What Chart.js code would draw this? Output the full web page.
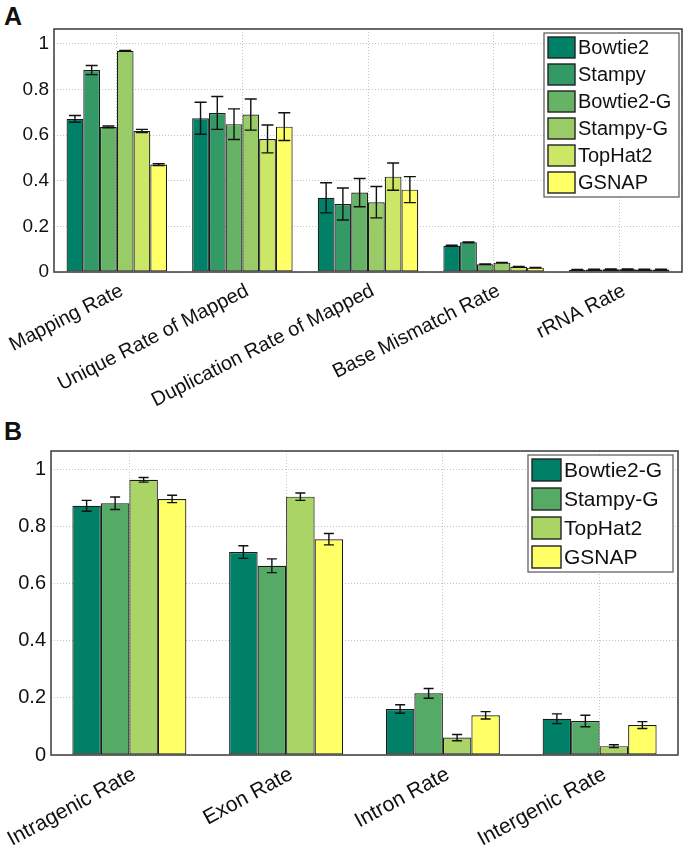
<!DOCTYPE html>
<html>
<head>
<meta charset="utf-8">
<script src="https://cdn.jsdelivr.net/npm/chart.js@4.4.0/dist/chart.umd.min.js"></script>
<style>
    body { margin: 0; background: #fff; width: 685px; height: 852px; position: relative; overflow: hidden; }
    .panel { position: absolute; left: 0; }
    .tag { position: absolute; left: 4px; font: bold 25px "Liberation Sans", Arial, sans-serif; color: #111; }
</style>
</head>
<body>
<div class="tag" style="top: 2px;">A</div>
<canvas id="chartA" class="panel" style="top: 0;" width="685" height="410"></canvas>
<div class="tag" style="top: 417px;">B</div>
<canvas id="chartB" class="panel" style="top: 410px;" width="685" height="442"></canvas>

<script>
// panel A data
const labelsA = ["Mapping Rate", "Unique Rate of Mapped", "Duplication Rate of Mapped", "Base Mismatch Rate", "rRNA Rate"];
const toolsA = ["Bowtie2", "Stampy", "Bowtie2-G", "Stampy-G", "TopHat2", "GSNAP"];
const bowtie2A = [0.671, 0.674, 0.325, 0.115, 0.010];
const stampyA = [0.885, 0.697, 0.298, 0.130, 0.011];
const bowtie2gA = [0.636, 0.648, 0.348, 0.034, 0.012];
const stampygA = [0.969, 0.690, 0.306, 0.041, 0.012];
const tophat2A = [0.618, 0.583, 0.418, 0.023, 0.011];
const gsnapA = [0.471, 0.637, 0.361, 0.019, 0.011];
// error bars A
const bowtie2ErrA = [0.015, 0.070, 0.066, 0.002, 0.001];
const stampyErrA = [0.020, 0.072, 0.070, 0.002, 0.001];
const bowtie2gErrA = [0.004, 0.067, 0.062, 0.001, 0.001];
const stampygErrA = [0.002, 0.068, 0.069, 0.001, 0.001];
const tophat2ErrA = [0.007, 0.061, 0.060, 0.001, 0.001];
const gsnapErrA = [0.004, 0.061, 0.057, 0.001, 0.001];

// panel B data
const labelsB = ["Intragenic Rate", "Exon Rate", "Intron Rate", "Intergenic Rate"];
const toolsB = ["Bowtie2-G", "Stampy-G", "TopHat2", "GSNAP"];
const bowtie2gB = [0.873, 0.711, 0.161, 0.127];
const stampygB = [0.882, 0.663, 0.216, 0.119];
const tophat2B = [0.964, 0.905, 0.061, 0.031];
const gsnapB = [0.897, 0.756, 0.139, 0.105];
const bowtie2gErrB = [0.019, 0.022, 0.015, 0.017];
const stampygErrB = [0.022, 0.024, 0.017, 0.020];
const tophat2ErrB = [0.008, 0.013, 0.011, 0.005];
const gsnapErrB = [0.013, 0.020, 0.013, 0.012];

const yTicks = [0, 0.2, 0.4, 0.6, 0.8, 1];

// matlab "summer" colours
const coloursA = ["rgb(0,128,102)", "rgb(51,153,102)", "rgb(102,179,102)", "rgb(153,204,102)", "rgb(204,230,102)", "rgb(255,255,102)"];
const coloursB = ["rgb(0,128,102)", "rgb(85,170,102)", "rgb(170,213,102)", "rgb(255,255,102)"];

const FONT = "'Liberation Sans', Arial, sans-serif";

// frame round the plot area
const framePlugin = {
    id: "frame",
    afterDraw(chart) {
        const { ctx, chartArea } = chart;
        ctx.save();
        ctx.strokeStyle = "#3a3a3a";
        ctx.lineWidth = 1.5;
        ctx.strokeRect(chartArea.left, chartArea.top, chartArea.right - chartArea.left, chartArea.bottom - chartArea.top);
        ctx.restore();
    },
};

// error bars from dataset.err
const errorBarPlugin = {
    id: "errbars",
    afterDatasetsDraw(chart, args, opts) {
        const { ctx } = chart;
        const yScale = chart.scales.y;
        const cap = opts.cap || 5.5;
        ctx.save();
        ctx.strokeStyle = "#111";
        ctx.lineWidth = 1.4;
        chart.data.datasets.forEach((ds, i) => {
            const meta = chart.getDatasetMeta(i);
            meta.data.forEach((bar, j) => {
                const v = ds.data[j];
                const e = ds.err[j];
                const top = yScale.getPixelForValue(v + e);
                const bot = yScale.getPixelForValue(v - e);
                ctx.beginPath();
                ctx.moveTo(bar.x, top);
                ctx.lineTo(bar.x, bot);
                ctx.moveTo(bar.x - cap, top);
                ctx.lineTo(bar.x + cap, top);
                ctx.moveTo(bar.x - cap, bot);
                ctx.lineTo(bar.x + cap, bot);
                ctx.stroke();
            });
        });
        ctx.restore();
    },
};

// boxed legend in the top right corner
const boxLegendPlugin = {
    id: "boxLegend",
    afterDraw(chart, args, opts) {
        const { ctx, chartArea } = chart;
        const sets = chart.data.datasets;
        const right = chartArea.right - opts.offsetRight;
        const left = right - opts.width;
        const top = chartArea.top + opts.offsetTop;
        const height = opts.pad * 2 + opts.rowH * (sets.length - 1) + opts.swH;
        ctx.save();
        ctx.fillStyle = "#fff";
        ctx.fillRect(left, top, opts.width, height);
        ctx.strokeStyle = "#555";
        ctx.lineWidth = 1.2;
        ctx.strokeRect(left, top, opts.width, height);
        ctx.font = opts.fontSize + "px " + FONT;
        ctx.textBaseline = "middle";
        sets.forEach((ds, i) => {
            const y = top + opts.pad + i * opts.rowH;
            ctx.fillStyle = ds.backgroundColor;
            ctx.fillRect(left + 4, y, opts.swW, opts.swH);
            ctx.strokeStyle = "#222";
            ctx.lineWidth = 1.4;
            ctx.strokeRect(left + 4, y, opts.swW, opts.swH);
            ctx.fillStyle = "#111";
            ctx.fillText(ds.label, left + 4 + opts.swW + 3, y + opts.swH / 2 + 1);
        });
        ctx.restore();
    },
};

function makeSets(names, colours, values, errs, groupWidth) {
    return names.map((name, i) => ({
        label: name,
        data: values[i],
        err: errs[i],
        backgroundColor: colours[i],
        borderColor: "#1a1a1a",
        borderWidth: 1.2,
        borderSkipped: false,
        categoryPercentage: groupWidth,
        barPercentage: 1,
    }));
}

function makeChart(id, labels, datasets, cfg) {
    return new Chart(document.getElementById(id), {
        type: "bar",
        data: { labels: labels, datasets: datasets },
        plugins: [framePlugin, errorBarPlugin, boxLegendPlugin],
        options: {
            responsive: false,
            animation: false,
            devicePixelRatio: 1,
            layout: { padding: { top: cfg.top, right: cfg.right, left: 0, bottom: 0 } },
            plugins: {
                legend: { display: false },
                tooltip: { enabled: false },
                boxLegend: cfg.legend,
                errbars: { cap: cfg.cap },
            },
            scales: {
                x: {
                    offset: true,
                    grid: { offset: false, color: "#c4c4c4", lineWidth: 1, drawTicks: false },
                    border: { display: false, dash: [1, 2] },
                    ticks: {
                        color: "#111",
                        font: { family: FONT, size: cfg.xFont },
                        maxRotation: cfg.rotation,
                        minRotation: cfg.rotation,
                        padding: 7,
                        labelOffset: 5,
                        autoSkip: false,
                    },
                    afterFit(scale) {
                        // keep the rotated labels from pushing the plot box inwards
                        scale.height = cfg.xHeight;
                        scale.paddingLeft = 0;
                        scale.paddingRight = 0;
                    },
                },
                y: {
                    min: 0,
                    max: 1.065,
                    afterBuildTicks(scale) { scale.ticks = yTicks.map((v) => ({ value: v })); },
                    grid: { color: "#c4c4c4", lineWidth: 1, drawTicks: false },
                    border: { display: false, dash: [1, 2] },
                    ticks: {
                        color: "#111",
                        font: { family: FONT, size: cfg.yFont },
                        padding: 5,
                        callback: (v) => String(+v.toFixed(1)),
                    },
                    afterFit(scale) {
                        scale.width = cfg.yWidth;
                        scale.paddingTop = 0;
                        scale.paddingBottom = 0;
                    },
                },
            },
        },
    });
}

const setsA = makeSets(toolsA, coloursA,
    [bowtie2A, stampyA, bowtie2gA, stampygA, tophat2A, gsnapA],
    [bowtie2ErrA, stampyErrA, bowtie2gErrA, stampygErrA, tophat2ErrA, gsnapErrA], 0.8);

const setsB = makeSets(toolsB, coloursB,
    [bowtie2gB, stampygB, tophat2B, gsnapB],
    [bowtie2gErrB, stampygErrB, tophat2ErrB, gsnapErrB], 4 / 5.5);

makeChart("chartA", labelsA, setsA, {
    top: 29, right: 3, xHeight: 138, yWidth: 54, rotation: 27, xFont: 20, yFont: 19, cap: 6,
    legend: { offsetRight: 3, offsetTop: 4, width: 135, pad: 4, rowH: 27, swW: 27, swH: 21, fontSize: 20 },
});

makeChart("chartB", labelsB, setsB, {
    top: 41, right: 7, xHeight: 97, yWidth: 51, rotation: 28.5, xFont: 21, yFont: 20, cap: 5,
    legend: { offsetRight: 5, offsetTop: 4, width: 145, pad: 4, rowH: 29, swW: 29, swH: 22, fontSize: 21 },
});
</script>
</body>
</html>
